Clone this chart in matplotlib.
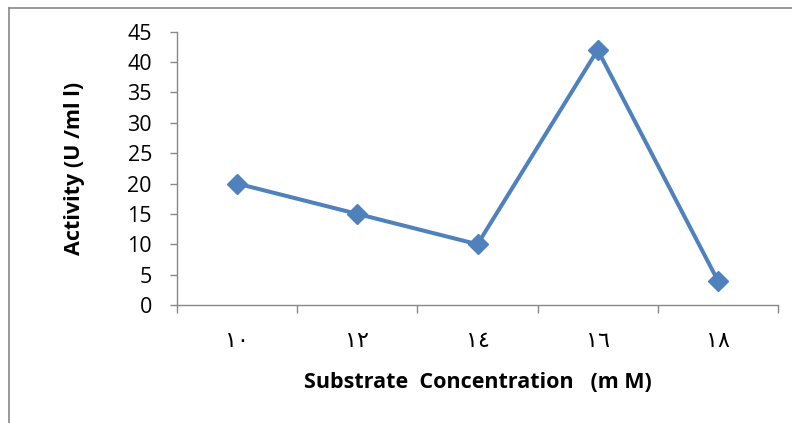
import matplotlib
matplotlib.use('Agg')
import matplotlib.pyplot as plt
from matplotlib.lines import Line2D
import numpy as np

# data
concentrations = ['١٠', '١٢', '١٤', '١٦', '١٨']
activity = [20, 15, 10, 42, 4]
y_ticks = [0, 5, 10, 15, 20, 25, 30, 35, 40, 45]

plt.rcParams['font.family'] = ['Open Sans', 'DejaVu Sans']

fig = plt.figure(figsize=(7.92, 4.23), dpi=100)
ax = fig.add_axes([177/792, 1-305/423, (778-177)/792, (305-31.7)/423])

x = np.arange(len(concentrations))
ax.plot(x, activity, color='#4F81BD', lw=2.9, marker='D', ms=10.5,
        markerfacecolor='#4F81BD', markeredgecolor='#4F81BD')

ax.set_xlim(-0.5, len(concentrations) - 0.5)
ax.set_ylim(0, 45)
ax.set_yticks(y_ticks)
ax.set_xticks(x)
ax.set_xticklabels(concentrations, fontsize=16, family=['DejaVu Sans'])
ax.set_xticks(np.arange(-0.5, len(concentrations)), minor=True)
ax.tick_params(axis='x', which='major', length=0, pad=19)
ax.tick_params(axis='x', which='minor', length=6, color='#888888', width=1)
ax.tick_params(axis='y', length=5, color='#888888', width=1, labelsize=15.5, pad=13)

for s in ['top', 'right']:
    ax.spines[s].set_visible(False)
for s in ['left', 'bottom']:
    ax.spines[s].set_color('#888888')
    ax.spines[s].set_linewidth(1)

ax.set_ylabel('Activity (U /ml l)', fontsize=15.5, fontweight='bold')
ax.yaxis.set_label_coords(-0.153, 0.5)
ax.set_xlabel('Substrate  Concentration   (m M)', fontsize=15.5, fontweight='bold', labelpad=15)

# outer chart frame (only left and top edges visible)
fx = 8.5/792
fy = 1 - 8.5/423
fig.add_artist(Line2D([fx, fx], [0, fy], color='#888888', lw=1.2))
fig.add_artist(Line2D([fx, 1], [fy, fy], color='#888888', lw=1.2))

fig.savefig('out.png', dpi=100)
